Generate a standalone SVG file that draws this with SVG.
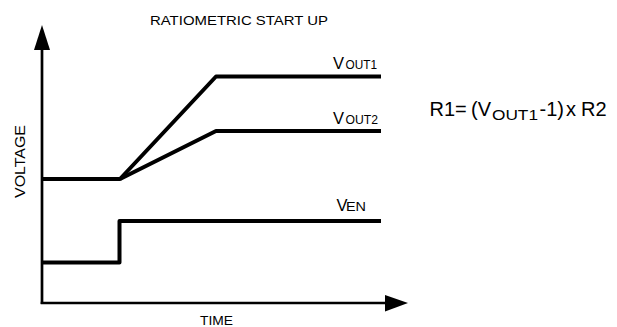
<svg xmlns="http://www.w3.org/2000/svg" width="617" height="327" viewBox="0 0 617 327">
<style>
  .t { font-family: "Liberation Sans", Arial, sans-serif; fill: #000; }
  .sig { fill: none; stroke: #000; stroke-width: 4; stroke-linejoin: round; }
  .axis { fill: none; stroke: #000; stroke-width: 2.7; }
</style>
<rect x="0" y="0" width="617" height="327" fill="#fff"/>
<g id="axes">
  <line class="axis" x1="42" y1="304" x2="42" y2="48"/>
  <polygon points="42,25 34,50 50,50" fill="#000"/>
  <line class="axis" x1="40.7" y1="303" x2="387" y2="303"/>
  <polygon points="385,295 385,311.5 408,303" fill="#000"/>
</g>
<g id="signals">
  <polyline id="vout1" class="sig" points="42,179 120,179 216,76.5 381,76.5"/>
  <polyline id="vout2" class="sig" points="120,179 216,131 381,131"/>
  <polyline id="ven" class="sig" points="42,262.5 119.5,262.5 119.5,221 381,221"/>
</g>
<g id="labels">
  <text class="t" x="150" y="25" font-size="13.5" textLength="178" lengthAdjust="spacingAndGlyphs">RATIOMETRIC START UP</text>
  <text class="t" font-size="14" text-anchor="middle" textLength="73" lengthAdjust="spacingAndGlyphs" transform="translate(25,161.5) rotate(-90)">VOLTAGE</text>
  <text class="t" x="200" y="325" font-size="13.5" textLength="33" lengthAdjust="spacingAndGlyphs">TIME</text>
  <text class="t" x="333" y="68.5" font-size="16.5">V<tspan x="345.5" y="69" font-size="12" textLength="31.5" lengthAdjust="spacingAndGlyphs">OUT1</tspan></text>
  <text class="t" x="333" y="123.5" font-size="16.5">V<tspan x="345.5" y="124" font-size="12" textLength="32.5" lengthAdjust="spacingAndGlyphs">OUT2</tspan></text>
  <text class="t" x="336.5" y="211" font-size="16.5">V<tspan x="346" y="211" font-size="12" textLength="20" lengthAdjust="spacingAndGlyphs">EN</tspan></text>
  <text class="t" y="116" font-size="20"><tspan x="429.5">R1=</tspan><tspan x="471">(V</tspan><tspan x="492" y="119.5" font-size="15.5" textLength="46" lengthAdjust="spacingAndGlyphs">OUT1</tspan><tspan x="539.5" y="115.5">-1)</tspan><tspan x="566" y="116">x</tspan><tspan x="581">R2</tspan></text>
</g>
</svg>
